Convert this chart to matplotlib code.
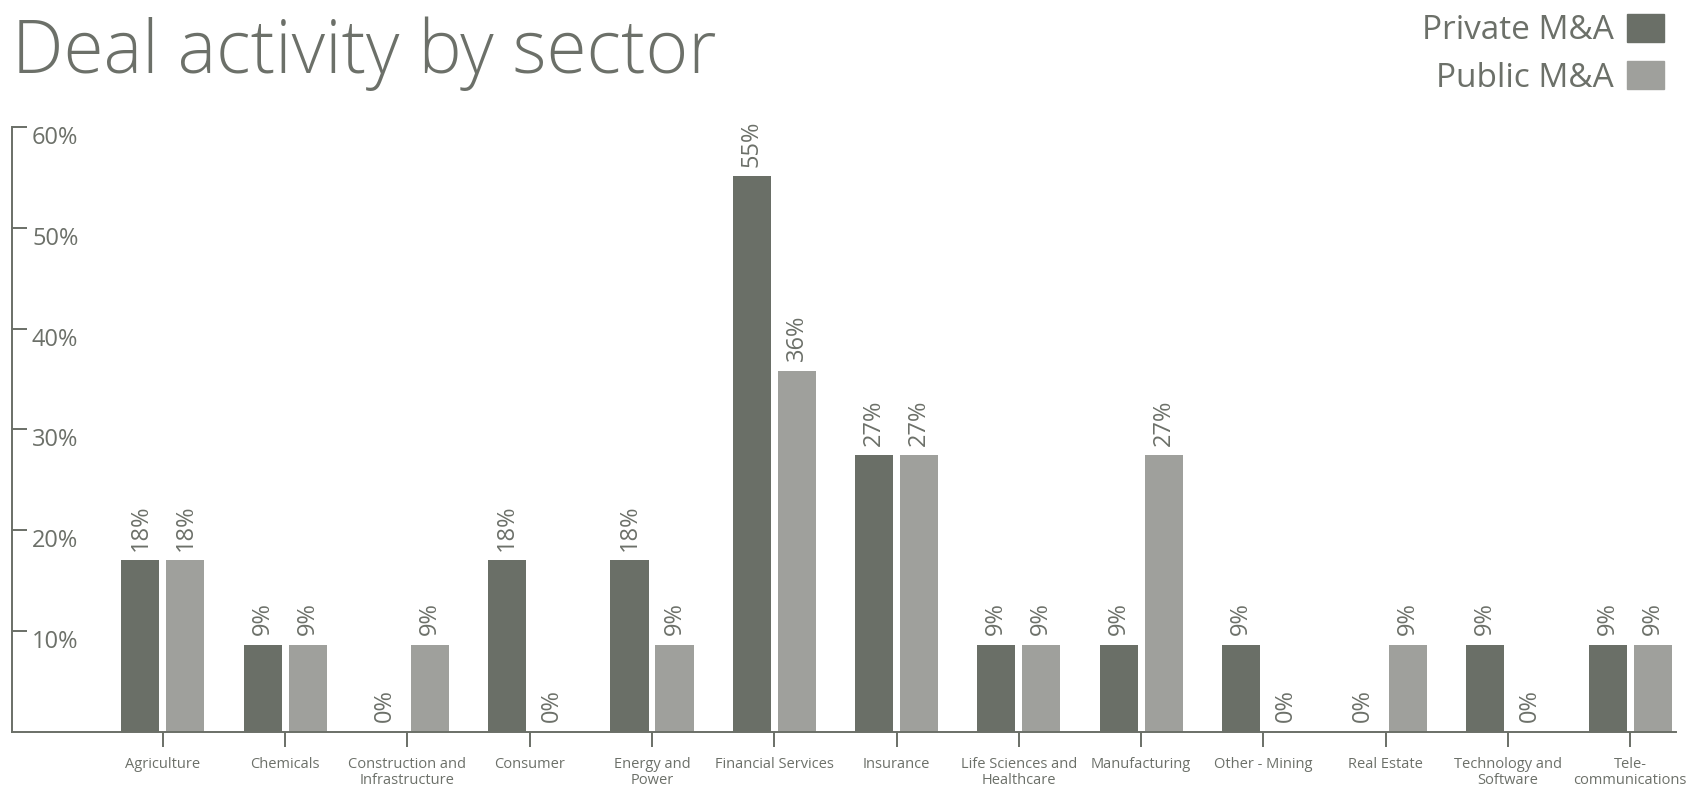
import matplotlib
matplotlib.use("Agg")
import matplotlib.pyplot as plt
import matplotlib.transforms as mtransforms
from matplotlib.patches import Patch
import numpy as np

plt.rcParams["font.family"] = ["Open Sans", "DejaVu Sans"]

categories = [
    "Agriculture",
    "Chemicals",
    "Construction and\nInfrastructure",
    "Consumer",
    "Energy and\nPower",
    "Financial Services",
    "Insurance",
    "Life Sciences and\nHealthcare",
    "Manufacturing",
    "Other - Mining",
    "Real Estate",
    "Technology and\nSoftware",
    "Tele-\ncommunications",
]
# bar heights as drawn in the reference, and the labels printed over them
private_vals = [0.170, 0.086, 0.0, 0.170, 0.170, 0.551, 0.274, 0.086, 0.086, 0.086, 0.0, 0.086, 0.086]
public_vals = [0.170, 0.086, 0.086, 0.0, 0.086, 0.358, 0.274, 0.086, 0.274, 0.0, 0.086, 0.0, 0.086]
private_labels = ["18%", "9%", "0%", "18%", "18%", "55%", "27%", "9%", "9%", "9%", "0%", "9%", "9%"]
public_labels = ["18%", "9%", "9%", "0%", "9%", "36%", "27%", "9%", "27%", "0%", "9%", "0%", "9%"]
yticks = [0.1, 0.2, 0.3, 0.4, 0.5, 0.6]
ytick_labels = ["10%", "20%", "30%", "40%", "50%", "60%"]

DARK = "#6a6f67"
LIGHT = "#9fa09c"
TEXT = "#6c7069"

W, H = 1687, 789
fig = plt.figure(figsize=(W / 100, H / 100), dpi=100)
ax = fig.add_axes([12 / W, 1 - 731.5 / H, (1676 - 12) / W, (731.5 - 127) / H])

x = np.arange(len(categories))
off = 0.184
bw = 0.311
ax.bar(x - off, private_vals, bw, color=DARK, label="Private M&A")
ax.bar(x + off, public_vals, bw, color=LIGHT, label="Public M&A")

for xi, v, lab in zip(x, private_vals, private_labels):
    ax.annotate(lab, (xi - off, v), xytext=(0, 7), textcoords="offset points",
                rotation=90, ha="center", va="bottom", fontsize=17, color=TEXT)
for xi, v, lab in zip(x, public_vals, public_labels):
    ax.annotate(lab, (xi + off, v), xytext=(0, 7), textcoords="offset points",
                rotation=90, ha="center", va="bottom", fontsize=17, color=TEXT)

ax.set_xlim(-1.235, 12.376)
ax.set_ylim(0, 0.6)

for s in ["top", "right"]:
    ax.spines[s].set_visible(False)
for s in ["left", "bottom"]:
    ax.spines[s].set_color(DARK)
    ax.spines[s].set_linewidth(1.4)

ax.set_xticks(x)
ax.set_xticklabels(categories, fontsize=10.5, color=TEXT, linespacing=1.15)
ax.tick_params(axis="x", length=11, width=1.4, color=DARK, pad=7)

ax.set_yticks(yticks)
ax.set_yticklabels([])
ax.tick_params(axis="y", direction="in", length=11, width=1.4, color=DARK)
lab_tr = mtransforms.offset_copy(ax.get_yaxis_transform(), fig=fig, x=20, y=-11, units="dots")
for yv, lab in zip(yticks, ytick_labels):
    ax.text(0, yv, lab, transform=lab_tr, ha="left", va="center", fontsize=17, color=TEXT)

fig.text(12 / W, 1 - 73 / H, "Deal activity by sector", fontsize=52.5, color=TEXT,
         ha="left", va="baseline", fontweight="light")

handles = [Patch(color=DARK), Patch(color=LIGHT)]
fig.legend(handles, ["Private M&A", "Public M&A"], loc="upper right",
           bbox_to_anchor=(1664 / W, 1 - 14 / H), frameon=False, markerfirst=False,
           fontsize=24, labelcolor=TEXT, handlelength=1.1, handleheight=0.9,
           handletextpad=0.4, labelspacing=0.42, borderpad=0, borderaxespad=0)

fig.savefig("out.png", dpi=100)
